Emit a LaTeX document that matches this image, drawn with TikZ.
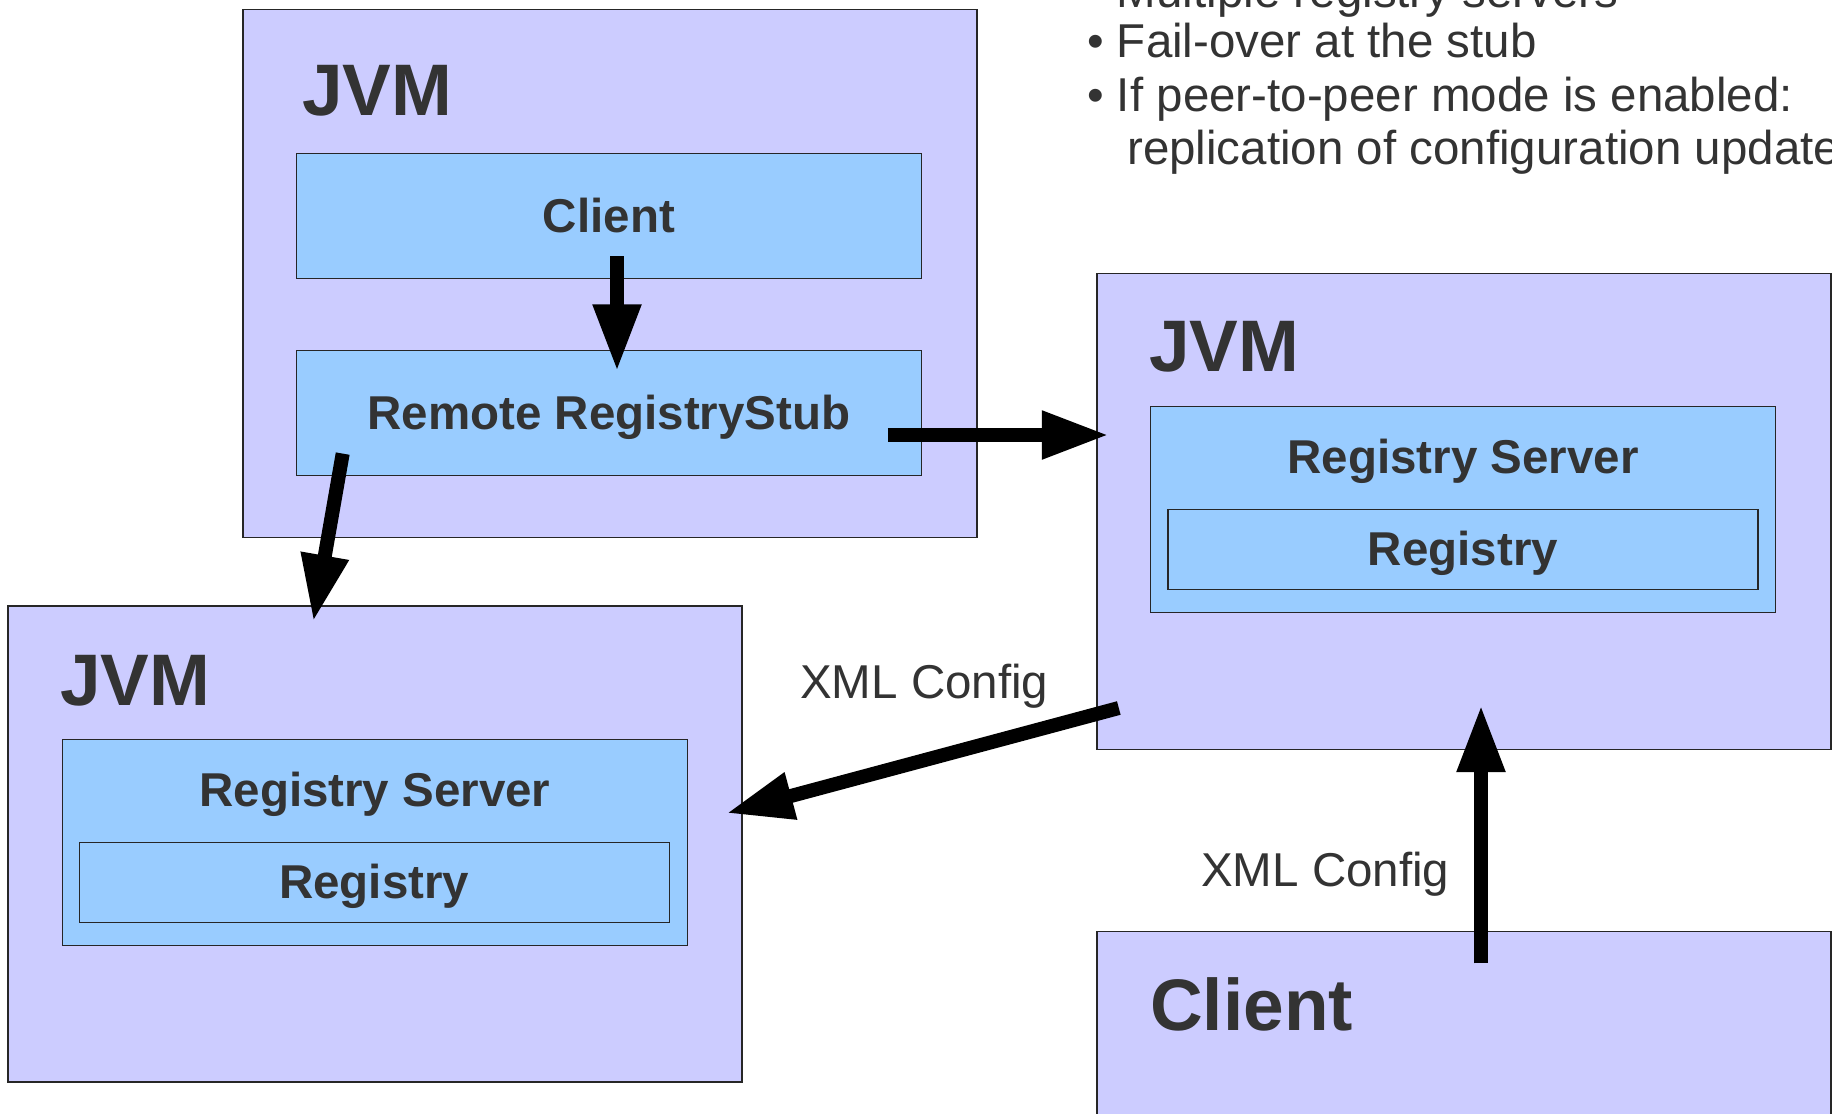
\documentclass[tikz,border=0pt]{standalone}
\usepackage{fontspec}
\setmainfont{Liberation Sans}
\usetikzlibrary{arrows.meta,positioning}

\definecolor{jvmfill}{HTML}{CCCCFF}
\definecolor{boxfill}{HTML}{99CCFF}
\definecolor{txtgray}{HTML}{333333}

\begin{document}
\begin{tikzpicture}[
  x=1pt,
  y=-1pt
]

  \path[use as bounding box] (0,0) rectangle (1832,1114);
  \clip (0,0) rectangle (1832,1114);

  \tikzstyle{jvmnode}=[draw=black!85,fill=jvmfill,line width=1.3pt,minimum width=734pt,minimum height=476pt,inner sep=0pt,outer sep=0pt,anchor=north west]
  \tikzstyle{boxnode}=[draw=black!85,fill=boxfill,line width=1.3pt,minimum width=625pt,inner sep=0pt,outer sep=0pt,anchor=north west,text=txtgray,font=\fontsize{47.5}{50}\selectfont\bfseries,text height=33pt,text depth=0pt]
  \tikzstyle{srvnode}=[boxnode,minimum height=206pt]
  \tikzstyle{regnode}=[boxnode,minimum width=590pt,minimum height=80pt]

  \tikzstyle{biglab}=[anchor=base west,inner sep=0pt,text=txtgray,font=\fontsize{73}{80}\selectfont\bfseries]
  \tikzstyle{boxlab}=[anchor=base,inner sep=0pt,text=txtgray,font=\fontsize{47.5}{50}\selectfont\bfseries]
  \tikzstyle{notelab}=[anchor=base west,inner sep=0pt,text=txtgray,font=\fontsize{47.5}{50}\selectfont]

  \tikzstyle{pointer}=[draw,line width=14pt,-{Triangle[width=45pt,length=67pt]}]

  % notes
  \node[notelab] (note1) at (1087,7)   {• Multiple registry servers};
  \node[notelab] (note2) at (1087,57)  {• Fail-over at the stub};
  \node[notelab] (note3) at (1087,111) {• If peer-to-peer mode is enabled:};
  \node[notelab] (note4) at (1127,164) {replication of configuration updates};

  % client JVM
  \node[jvmnode,minimum height=528pt] (jvmA) at (243,9.6) {};
  \node[biglab] (jvmAlab) at ([shift={(59,105.5)}]jvmA.north west) {JVM};
  \node[boxnode,minimum height=125pt] (clientA) at ([shift={(53.4,144)}]jvmA.north west) {Client};
  \node[boxnode,minimum height=124.5pt] (stubA) at ([shift={(53.4,341.1)}]jvmA.north west) {Remote RegistryStub};

  % server JVM, left
  \node[jvmnode] (jvmB) at (8,606) {};
  \node[biglab] (jvmBlab) at ([shift={(52,99)}]jvmB.north west) {JVM};
  \node[srvnode] (srvB) at ([shift={(54.4,133.3)}]jvmB.north west) {};
  \node[boxlab] (srvBlab) at ([yshift=-67pt]srvB.north) {Registry Server};
  \node[regnode] (regB) at ([shift={(16.8,103)}]srvB.north west) {Registry};

  % server JVM, right
  \node[jvmnode] (jvmC) at (1097,273.3) {};
  \node[biglab] (jvmClab) at ([shift={(52,98.2)}]jvmC.north west) {JVM};
  \node[srvnode] (srvC) at ([shift={(53.6,133.4)}]jvmC.north west) {};
  \node[boxlab] (srvClab) at ([yshift=-66.5pt]srvC.north) {Registry Server};
  \node[regnode] (regC) at ([shift={(17.4,102.6)}]srvC.north west) {Registry};

  % plain client
  \node[jvmnode] (clientD) at (1097,931.7) {};
  \node[biglab] (clientDlab) at ([shift={(53,98.3)}]clientD.north west) {Client};

  % labels
  \node[notelab] (xmlB) at (800,698) {XML Config};
  \node[notelab] (xmlC) at (1201,886) {XML Config};

  % pointer ends
  \coordinate (clientAout) at (617,256);
  \coordinate (stubAin)    at (617,371.4);
  \coordinate (stubAright) at (887.8,435);
  \coordinate (jvmCin)     at (1108.9,435);
  \coordinate (stubAleft)  at (342.7,453.6);
  \coordinate (jvmBin)     at (313.3,621.7);
  \coordinate (jvmCout)    at (1118.8,708);
  \coordinate (srvBin)     at (726.3,813.3);
  \coordinate (clientDout) at (1481,963.3);
  \coordinate (jvmCbot)    at (1481,705);

  % pointers
  \draw[pointer] (clientAout) -- (stubAin);
  \draw[pointer] (stubAright) -- (jvmCin);
  \draw[pointer] (stubAleft)  -- (jvmBin);
  \draw[pointer] (jvmCout)    -- (srvBin);
  \draw[pointer] (clientDout) -- (jvmCbot);

\end{tikzpicture}
\end{document}
